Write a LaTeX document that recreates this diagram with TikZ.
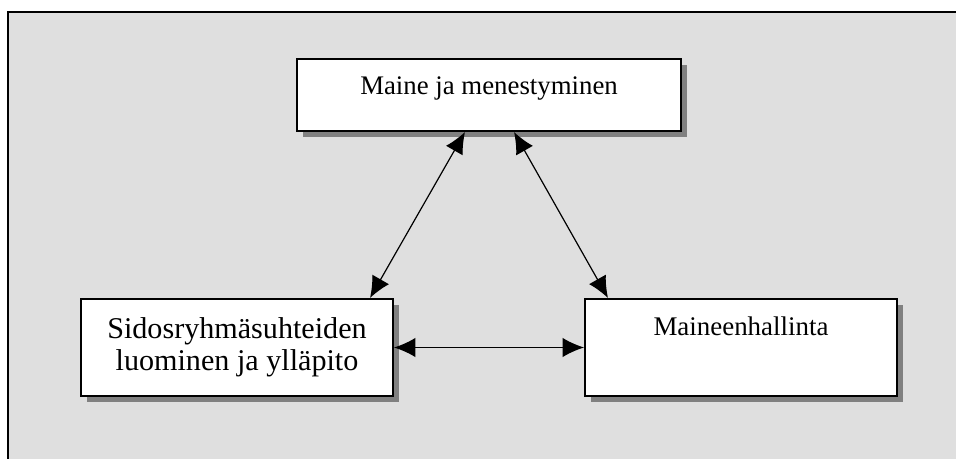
\documentclass[tikz,border=0pt]{standalone}
\usepackage{fontspec}
\setmainfont{Liberation Serif}
\usetikzlibrary{arrows.meta,shadows}
\definecolor{taustaharmaa}{RGB}{223,223,223}
\definecolor{varjoharmaa}{RGB}{128,128,128}

\begin{document}
\begin{tikzpicture}[x=0.75pt, y=-0.75pt,
    laatikko/.style={draw=black, line width=1.5pt, fill=white, rectangle,
        minimum width=234pt, minimum height=72.75pt, inner sep=0pt,
        font=\fontsize{20.1}{23.25}\selectfont, align=center,
        drop shadow={shadow xshift=4.5pt, shadow yshift=-4.5pt, fill=varjoharmaa, opacity=1}},
    nuoli/.style={{Latex[length=16pt, width=14.5pt]}-{Latex[length=16pt, width=14.5pt]}, line width=0.9pt}]
    \useasboundingbox (0,0) rectangle (956,459);
    \clip (0,0) rectangle (956,459);

    % Tausta
    \draw[line width=1.2pt, fill=taustaharmaa] (8,12) rectangle (1000,520);

    % Laatikot
    \node[laatikko, minimum width=288pt, minimum height=54pt, text height=13.5pt, text depth=13.5pt] (maine) at (489,95) {Maine ja menestyminen};
    \node[laatikko, font=\fontsize{22.6}{24}\selectfont] (sidos) at (237,347.5) {Sidosryhmäsuhteiden\\luominen ja ylläpito};
    \node[laatikko, font=\fontsize{20.2}{23}\selectfont, text height=13.5pt, text depth=32.25pt] (hallinta) at (741,347.5) {Maineenhallinta};

    % Nuolet
    \draw[nuoli] ([xshift=-18pt]maine.south) -- ([xshift=99.75pt]sidos.north);
    \draw[nuoli] ([xshift=18.75pt]maine.south) -- ([xshift=-99.75pt]hallinta.north);
    \draw[nuoli] (sidos.east) -- (hallinta.west);
\end{tikzpicture}
\end{document}
